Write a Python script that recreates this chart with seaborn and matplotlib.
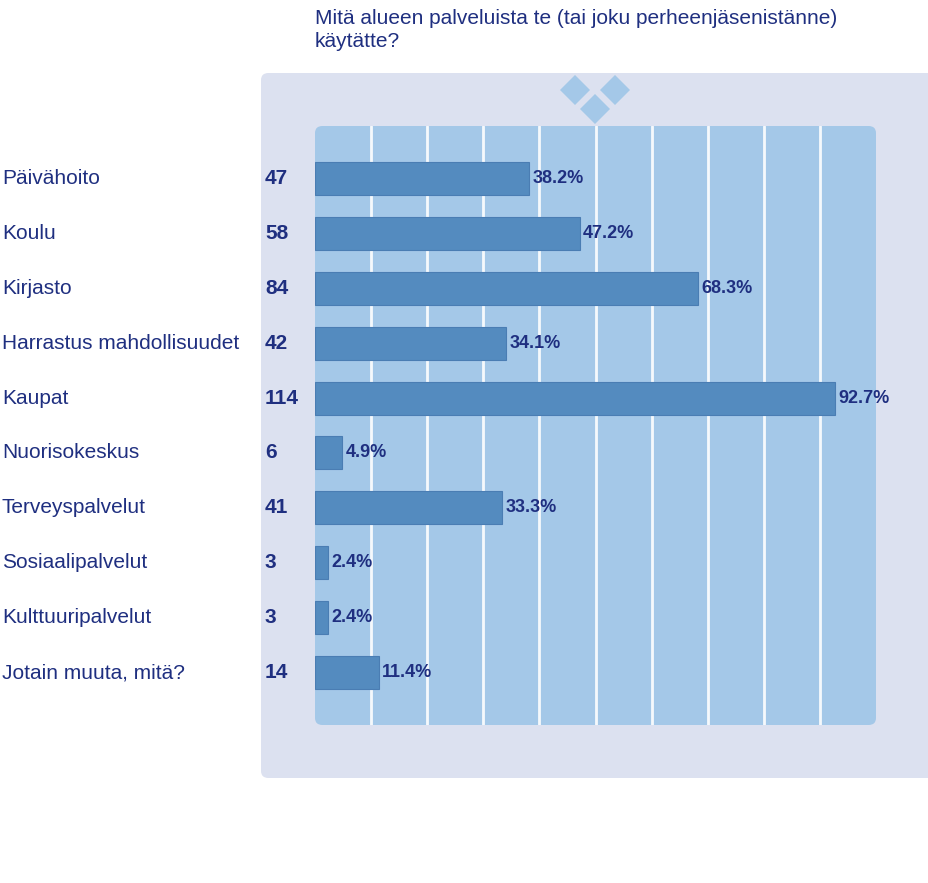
import numpy as np
import pandas as pd
import seaborn as sns
from matplotlib import pyplot as plt
from matplotlib.patches import FancyBboxPatch, Polygon
from matplotlib.transforms import blended_transform_factory

sns.set_theme(style="white")
plt.rcParams['font.family'] = ['Liberation Sans', 'DejaVu Sans']

categories = ['Päivähoito', 'Koulu', 'Kirjasto', 'Harrastus mahdollisuudet', 'Kaupat',
              'Nuorisokeskus', 'Terveyspalvelut', 'Sosiaalipalvelut', 'Kulttuuripalvelut',
              'Jotain muuta, mitä?']
counts = [47, 58, 84, 42, 114, 6, 41, 3, 3, 14]
percents = [38.2, 47.2, 68.3, 34.1, 92.7, 4.9, 33.3, 2.4, 2.4, 11.4]
title = 'Mitä alueen palveluista te (tai joku perheenjäsenistänne)\nkäytätte?'

navy = '#1f2f80'
panel = '#dce1f0'
inner = '#a4c8e8'
bar_col = '#548bbf'

W, H = 929, 883
fig = plt.figure(figsize=(W / 100, H / 100), dpi=100)
fig.patch.set_facecolor('white')

# outer lavender panel
fig.patches.append(FancyBboxPatch((261 / W, (H - 778) / H), 700 / W, 705 / H,
                                  boxstyle='round,pad=0,rounding_size=0.008',
                                  transform=fig.transFigure, facecolor=panel,
                                  edgecolor='none', zorder=0))
# inner light blue area
fig.patches.append(FancyBboxPatch((315 / W, (H - 725) / H), 561 / W, 599 / H,
                                  boxstyle='round,pad=0,rounding_size=0.008',
                                  transform=fig.transFigure, facecolor=inner,
                                  edgecolor='none', zorder=0.5))

# diamonds logo
for cx, cy in [(575, 90), (615, 90), (595, 109)]:
    r = 15
    pts = [((cx - r) / W, (H - cy) / H), (cx / W, (H - cy + r) / H),
           ((cx + r) / W, (H - cy) / H), (cx / W, (H - cy - r) / H)]
    fig.patches.append(Polygon(pts, closed=True, transform=fig.transFigure,
                               facecolor=inner, edgecolor='none', zorder=1))

ax = fig.add_axes([315 / W, (H - 725) / H, 561 / W, 599 / H])
ax.set_zorder(5)
ax.patch.set_alpha(0)

df = pd.DataFrame({'cat': categories, 'pct': percents})
sns.barplot(data=df, x='pct', y='cat', orient='h', color=bar_col, saturation=1,
            width=0.6, edgecolor='#4a7db3', linewidth=0.8, ax=ax, zorder=3)

for xv in range(10, 100, 10):
    ax.axvline(xv, color='white', lw=2.0, zorder=2, alpha=0.9)

ax.set_xlim(0, 100)
ax.set_ylim(len(categories) - 1 + 0.95, -0.95)
ax.set_xticks([])
ax.set_yticks([])
ax.set_xlabel('')
ax.set_ylabel('')
for s in ax.spines.values():
    s.set_visible(False)

tr = blended_transform_factory(fig.transFigure, ax.transData)
for i, (c, n, p) in enumerate(zip(categories, counts, percents)):
    ax.text(2 / W, i, c, transform=tr, color=navy, fontsize=15, va='center', ha='left',
            clip_on=False)
    ax.text(265 / W, i, str(n), transform=tr, color=navy, fontsize=15,
            fontweight='bold', va='center', ha='left', clip_on=False)
    ax.text(p + 0.6, i, f'{p}%', color=navy, fontsize=13, fontweight='bold',
            va='center', ha='left', zorder=4, clip_on=False)

fig.text(315 / W, (H - 9) / H, title, color=navy, fontsize=15, va='top', ha='left',
         linespacing=1.25)

fig.savefig('out.png', dpi=100)
